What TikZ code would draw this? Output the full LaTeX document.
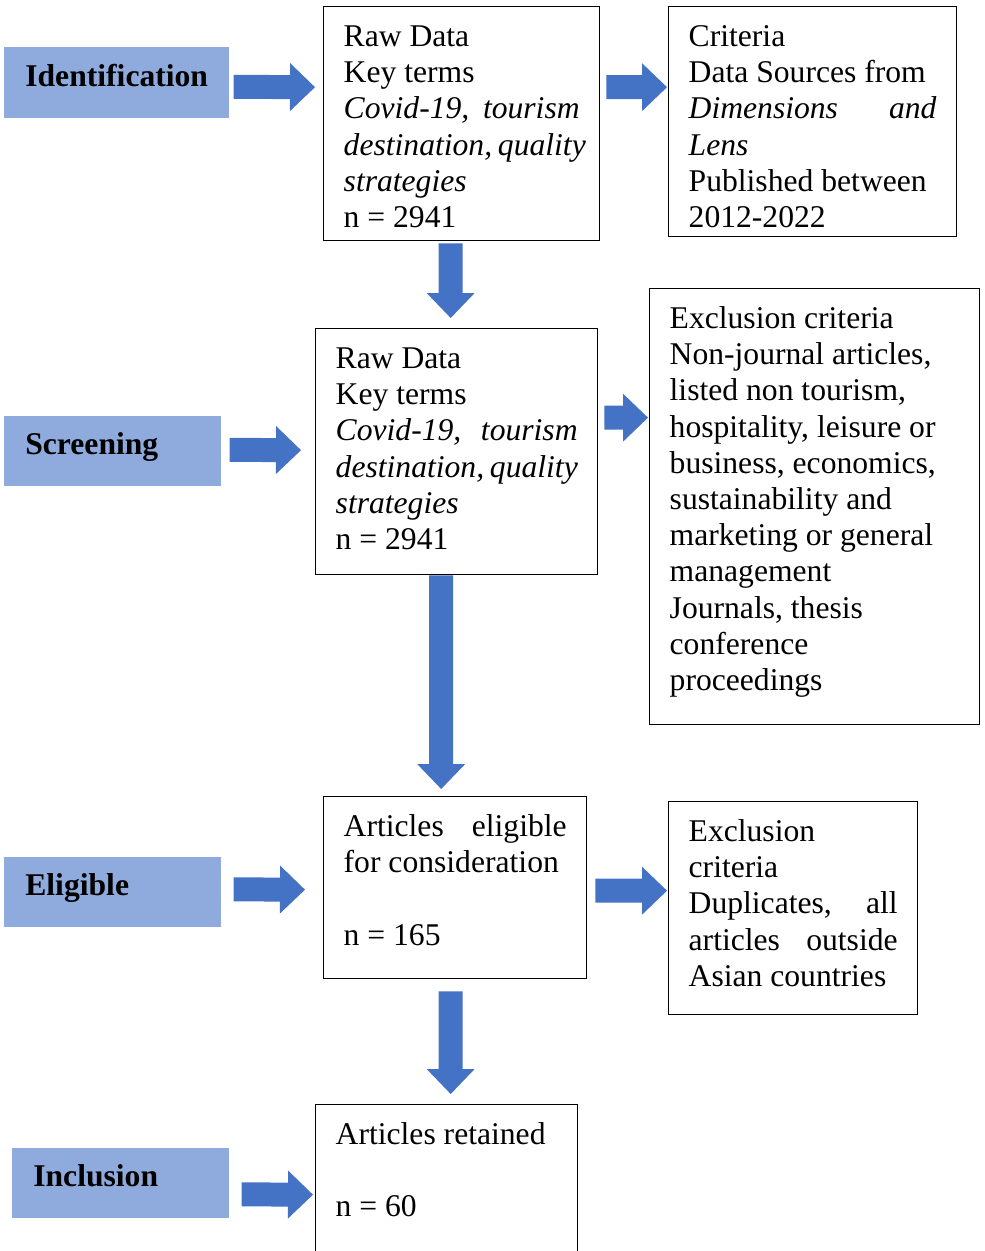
\documentclass[tikz,border=0pt]{standalone}
\usepackage{fontspec}
\setmainfont{Liberation Serif}
\usetikzlibrary{arrows.meta}
\definecolor{labelblue}{HTML}{8FAADC}
\definecolor{arrowblue}{HTML}{4472C4}
\newcommand\boxfont{\fontsize{18}{20.6}\selectfont}
\newcommand\spreadline[1]{\makebox[\linewidth][s]{#1}}
\tikzset{
  stagelabel/.style={fill=labelblue, anchor=north west, inner xsep=0.42cm, inner ysep=0pt,
    align=left, font=\boxfont\bfseries, text height=0.5cm, text depth=0.36cm},
  stagebox/.style={draw, line width=0.8pt, anchor=north west, inner xsep=0.4cm,
    inner ysep=0.29cm, font=\boxfont},
  blockarrow/.style={arrowblue, line width=0.48cm,
    -{Triangle[length=0.5cm, width=0.96cm, line width=0pt]}}
}
\begin{document}
\begin{tikzpicture}[x=0.02cm, y=-0.02cm]
\path[use as bounding box, clip] (0,0) rectangle (984,1251);

% stage labels
\node[stagelabel, minimum height=1.42cm, text width=3.66cm] (lid) at (4,47) {Identification};
\node[stagelabel, minimum height=1.4cm, text width=3.5cm] (lscr) at (4,416) {Screening};
\node[stagelabel, minimum height=1.4cm, text width=3.5cm] (lelig) at (4,857) {Eligible};
\node[stagelabel, minimum height=1.4cm, text width=3.5cm] (lincl) at (12,1148) {Inclusion};

% boxes
\node[stagebox] (rawA) at (323,6) {\parbox[c][4.10cm][t]{4.72cm}{\strut Raw Data\\
  Key terms\\
  \spreadline{\textit{Covid-19,} \hfill \textit{tourism}}\\
  \spreadline{\textit{destination,} \hfill \textit{quality}}\\
  \textit{strategies}\\
  n = 2941}};
\node[stagebox] (critB) at (668,6) {\parbox[c][4.02cm][t]{4.96cm}{\strut Criteria\\
  Data Sources from\\
  \spreadline{\textit{Dimensions} \hfill \textit{and}}\\
  \textit{Lens}\\
  Published between\\
  2012-2022}};
\node[stagebox] (rawC) at (315,328) {\parbox[c][4.34cm][t]{4.84cm}{\strut Raw Data\\
  Key terms\\
  \spreadline{\textit{Covid-19,} \hfill \textit{tourism}}\\
  \spreadline{\textit{destination,} \hfill \textit{quality}}\\
  \textit{strategies}\\
  n = 2941}};
\node[stagebox] (exclD) at (649,288) {\parbox[c][8.14cm][t]{5.80cm}{\strut Exclusion criteria\\
  Non-journal articles,\\
  listed non tourism,\\
  hospitality, leisure or\\
  business, economics,\\
  sustainability and\\
  marketing or general\\
  management\\
  Journals, thesis\\
  conference\\
  proceedings}};
\node[stagebox] (eligE) at (323,796) {\parbox[c][3.06cm][t]{4.46cm}{\strut
  \spreadline{Articles \hfill eligible}\\
  for consideration\\[20.6pt]
  n = 165}};
\node[stagebox] (exclF) at (668,801) {\parbox[c][3.68cm][t]{4.18cm}{\strut Exclusion\\
  criteria\\
  \spreadline{Duplicates, \hfill all}\\
  \spreadline{articles \hfill outside}\\
  Asian countries}};
\node[stagebox] (retG) at (315,1104) {\parbox[c][2.82cm][t]{4.44cm}{\strut Articles retained\\[20.6pt]
  n = 60}};

% arrows from the labels
\draw[blockarrow] ([shift={(4,4)}]lid.east) -- ([shift={(-8,-36.5)}]rawA.west);
\draw[blockarrow] ([shift={(8,-1.5)}]lscr.east) -- ([shift={(-14,-1.5)}]rawC.west);
\draw[blockarrow] ([shift={(12,-3)}]lelig.east) -- ([shift={(-18,2)}]eligE.west);
\draw[blockarrow] ([shift={(12,11)}]lincl.east) -- ([shift={(-2,5)}]retG.west);

% arrows between boxes
\draw[blockarrow] ([shift={(6,-36.5)}]rawA.east) -- ([shift={(-1,-34.5)}]critB.west);
\draw[blockarrow] ([shift={(-11,2)}]rawA.south) -- ([shift={(-6,-10)}]rawC.north);
\draw[blockarrow] ([shift={(6,-34)}]rawC.east) -- ([shift={(-1,-89)}]exclD.west);
\draw[blockarrow] ([shift={(-15.5,0)}]rawC.south) -- ([shift={(-14,-7)}]eligE.north);
\draw[blockarrow] ([shift={(8,3)}]eligE.east) -- ([shift={(-1,-17.5)}]exclF.west);
\draw[blockarrow] ([shift={(-4.5,12)}]eligE.south) -- ([shift={(4,-10)}]retG.north);
\end{tikzpicture}
\end{document}
